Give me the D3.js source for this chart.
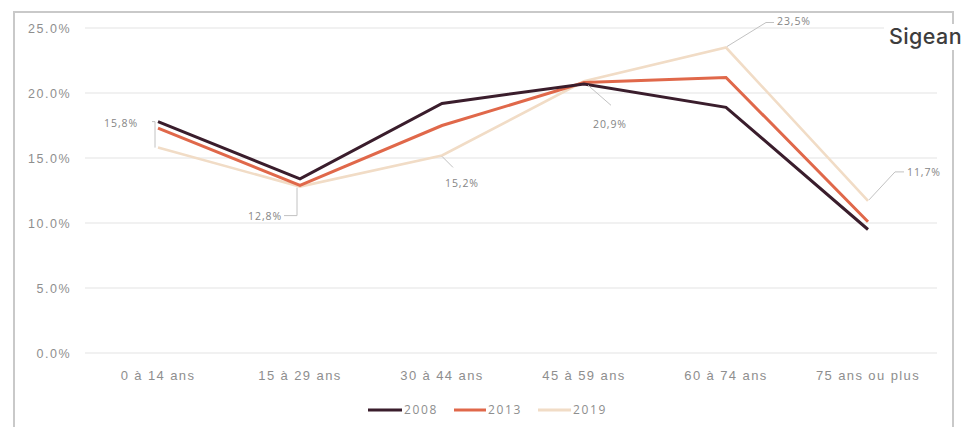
<!DOCTYPE html>
<html>
<head>
<meta charset="utf-8">
<script src="https://cdn.jsdelivr.net/npm/d3@7"></script>
<style>
  html, body { margin: 0; padding: 0; background: #fff; }
  svg { display: block; font-family: "Open Sans", "DejaVu Sans", sans-serif; }
</style>
</head>
<body>
<svg id="chart" width="964" height="427"></svg>
<script>
// Population share by age group, three census years
const categories = ["0 à 14 ans", "15 à 29 ans", "30 à 44 ans", "45 à 59 ans", "60 à 74 ans", "75 ans ou plus"];
const years = ["2008", "2013", "2019"];
const values2008 = [17.8, 13.4, 19.2, 20.7, 18.9, 9.5];
const values2013 = [17.3, 12.9, 17.5, 20.8, 21.2, 10.1];
const values2019 = [15.8, 12.8, 15.2, 20.9, 23.5, 11.7];
const yTicks = [0, 5, 10, 15, 20, 25];
const colors = ["#3a1d2c", "#e0684a", "#f1dcc6"];
const title = "Sigean";

const seriesValues = [values2008, values2013, values2019];
const textGrey = "#8e8e8e";

const svg = d3.select("#chart");

// Chart frame
svg.append("path")
  .attr("d", "M14,430 L14,12 L953,12 L953,430")
  .attr("fill", "none")
  .attr("stroke", "#c9c9c9")
  .attr("stroke-width", 2);

const x = d3.scaleBand().domain(categories).range([87, 939]).padding(0);
const y = d3.scaleLinear().domain([0, 25]).range([353, 28]);
const cx = c => x(c) + x.bandwidth() / 2;

// Horizontal gridlines
svg.append("g").selectAll("line").data(yTicks).join("line")
  .attr("x1", 85).attr("x2", 937)
  .attr("y1", d => y(d)).attr("y2", d => y(d))
  .attr("stroke", "#e4e4e4").attr("stroke-width", 1.2);

// Y axis labels
const yAxis = d3.axisLeft(y).tickValues(yTicks).tickSize(0).tickPadding(0)
  .tickFormat(d => d3.format(".1f")(d) + "%");
svg.append("g").attr("transform", "translate(71,0)").call(yAxis)
  .call(g => g.select(".domain").remove())
  .selectAll("text")
  .attr("fill", textGrey).style("font-size", "12.5px").style("letter-spacing", "1.5px")
  .attr("dy", "0.35em");

// X axis labels
const xAxis = d3.axisBottom(x).tickSize(0).tickPadding(0);
svg.append("g").attr("transform", "translate(0,371)").call(xAxis)
  .call(g => g.select(".domain").remove())
  .selectAll("text")
  .attr("fill", textGrey).style("font-size", "13px").style("letter-spacing", "1.4px")
  .attr("dy", "0.71em");

// Series lines (drawn oldest on top)
const line = d3.line().x((d, i) => cx(categories[i])).y(d => y(d));
const order = [2, 1, 0];
order.forEach(k => {
  svg.append("path")
    .datum(seriesValues[k])
    .attr("d", line)
    .attr("fill", "none")
    .attr("stroke", colors[k])
    .attr("stroke-width", k === 2 ? 2.6 : 3)
    .attr("stroke-linejoin", "miter")
    .attr("stroke-linecap", "butt");
});

// 2019 data labels with leader lines (label offset relative to the point)
const labelOffsets = [
  { dx: -20, dy: -24, anchor: "end",   leader: p => [[p[0] - 3, p[1]], [p[0] - 3, p[1] - 26], [p[0] - 6, p[1] - 26]] },
  { dx: -18, dy: 30,  anchor: "end",   leader: p => [[p[0] - 3, p[1] + 1], [p[0] - 3, p[1] + 29], [p[0] - 16, p[1] + 29]] },
  { dx: 3,   dy: 28,  anchor: "start", leader: p => [[p[0], p[1] + 1], [p[0] + 11, p[1] + 12]] },
  { dx: 9,   dy: 43,  anchor: "start", leader: p => [[p[0] + 4, p[1] + 4], [p[0] + 27, p[1] + 24]] },
  { dx: 51,  dy: -26, anchor: "start", leader: p => [[p[0] + 1, p[1] - 1], [p[0] + 40, p[1] - 25], [p[0] + 48, p[1] - 25]] },
  { dx: 39,  dy: -29, anchor: "start", leader: p => [[p[0] + 1, p[1] - 1], [p[0] + 27, p[1] - 29], [p[0] + 36, p[1] - 29]] }
];
const fmtLabel = v => d3.format(".1f")(v).replace(".", ",") + "%";
const labels = svg.append("g");
values2019.forEach((v, i) => {
  const p = [cx(categories[i]), y(v)];
  const o = labelOffsets[i];
  labels.append("path")
    .attr("d", d3.line()(o.leader(p)))
    .attr("fill", "none").attr("stroke", "#c2c2c2").attr("stroke-width", 1);
  labels.append("text")
    .attr("x", p[0] + o.dx).attr("y", p[1] + o.dy)
    .attr("dy", "0.35em")
    .attr("text-anchor", o.anchor)
    .attr("fill", "#858585")
    .style("font-size", "10.5px")
    .style("letter-spacing", "0.9px")
    .text(fmtLabel(v));
});

// Legend
const legendItems = [
  { x: 368, len: 34 },
  { x: 454, len: 32 },
  { x: 538, len: 33 }
];
const legend = svg.append("g");
years.forEach((yr, i) => {
  const it = legendItems[i];
  legend.append("line")
    .attr("x1", it.x).attr("x2", it.x + it.len)
    .attr("y1", 410).attr("y2", 410)
    .attr("stroke", colors[i]).attr("stroke-width", 3);
  legend.append("text")
    .attr("x", it.x + it.len + 2).attr("y", 410).attr("dy", "0.35em")
    .attr("fill", textGrey).style("font-size", "12px").style("letter-spacing", "1.6px")
    .text(yr);
});

// Title
svg.append("rect").attr("x", 884).attr("y", 24).attr("width", 80).attr("height", 26).attr("fill", "#fff");
svg.append("text")
  .attr("x", 962).attr("y", 44)
  .attr("text-anchor", "end")
  .attr("fill", "#3d3d3d")
  .style("font-family", "Inter, Roboto, sans-serif")
  .style("font-size", "21.5px")
  .style("font-weight", "500")
  .style("letter-spacing", "0.4px")
  .text(title);
</script>
</body>
</html>
